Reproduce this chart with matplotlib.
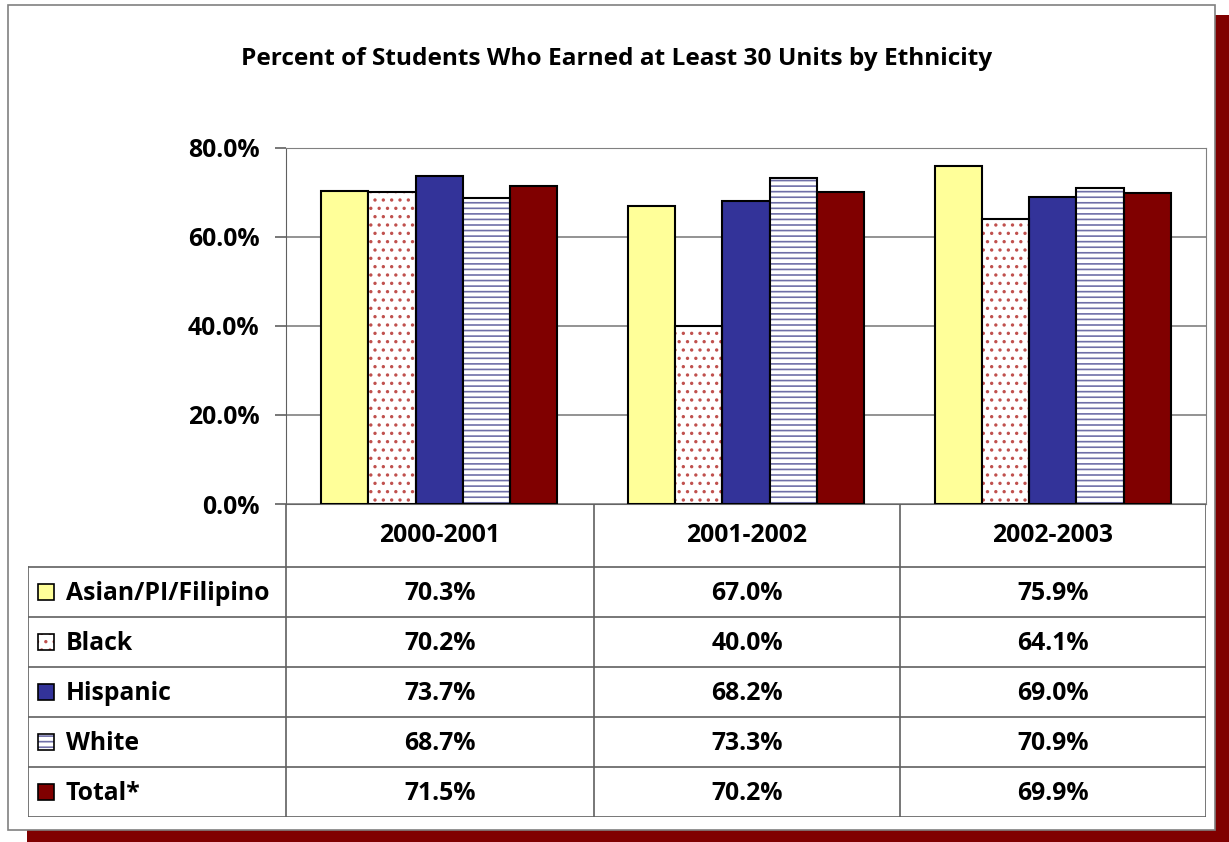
import numpy as np
import matplotlib.pyplot as plt
from matplotlib.patches import Rectangle

years = ['2000-2001', '2001-2002', '2002-2003']
groups = ['Asian/PI/Filipino', 'Black', 'Hispanic', 'White', 'Total*']
values = {
    'Asian/PI/Filipino': [70.3, 67.0, 75.9],
    'Black': [70.2, 40.0, 64.1],
    'Hispanic': [73.7, 68.2, 69.0],
    'White': [68.7, 73.3, 70.9],
    'Total*': [71.5, 70.2, 69.9],
}
faces = ['#ffff99', 'white', '#333399', 'white', '#800000']
hatches = [None, '..', None, '---', None]
hatch_cols = [None, '#c0504d', None, '#6f6fa8', None]

W, H = 1229, 842
plt.rcParams['font.family'] = ['Open Sans', 'DejaVu Sans']
plt.rcParams['font.weight'] = 'bold'
plt.rcParams['hatch.linewidth'] = 1.2
fs = 17.8

fig = plt.figure(figsize=(W / 100, H / 100), dpi=100)

def fx(x):
    return x / W

def fy(y):
    return 1 - y / H

# shadow + frame (behind the axes)
fig.patches.append(Rectangle((fx(27), fy(842)), fx(1229 - 27), (842 - 15) / H,
                             transform=fig.transFigure, facecolor='#800000', edgecolor='none', zorder=-3))
fig.patches.append(Rectangle((fx(8), fy(830)), fx(1215 - 8), (830 - 5) / H,
                             transform=fig.transFigure, facecolor='white', edgecolor='#808080', lw=1.2, zorder=-2))

fig.text(fx(617), fy(59), 'Percent of Students Who Earned at Least 30 Units by Ethnicity',
         ha='center', va='center', fontsize=17.6, fontweight='bold')

# bar plot area
ax = fig.add_axes([fx(286), fy(504), fx(1206 - 286), (504 - 148) / H])
ax.patch.set_alpha(0)
x = np.arange(len(years))
n = len(groups)
bw = 0.77 / n
for i, g in enumerate(groups):
    pos = x + (i - (n - 1) / 2) * bw
    if hatches[i]:
        ax.bar(pos, values[g], bw, color=faces[i], hatch=hatches[i], edgecolor=hatch_cols[i], lw=0, zorder=3)
        ax.bar(pos, values[g], bw, facecolor='none', edgecolor='black', lw=1.5, zorder=4)
    else:
        ax.bar(pos, values[g], bw, color=faces[i], edgecolor='black', lw=1.5, zorder=3)
ax.set_xlim(-0.5, len(years) - 0.5)
ax.set_ylim(0, 80)
ax.set_yticks(np.arange(0, 81, 20))
ax.set_yticklabels([f'{v:.1f}%' for v in np.arange(0, 81, 20)], fontsize=fs, fontweight='bold')
ax.set_xticks([])
ax.yaxis.grid(True, color='#808080', lw=1.2)
ax.set_axisbelow(True)
ax.tick_params(axis='y', length=8, width=1.2, color='#606060', pad=11)
for s in ['top', 'right', 'bottom']:
    ax.spines[s].set_color('#808080')
ax.spines['left'].set_color('#606060')

# data table
tab = fig.add_axes([fx(28), fy(817), fx(1206 - 28), (817 - 504) / H])
tab.set_xlim(28, 1206)
tab.set_ylim(817, 504)
tab.axis('off')
cols = [286, 594, 900, 1206]
row_top = 567
row_h = 50
lc = '#606060'
tab.plot([286, 1206], [504, 504], color=lc, lw=1.2)
for c in cols:
    tab.plot([c, c], [504, 817], color=lc, lw=1.2)
tab.plot([28, 28], [row_top, 817], color=lc, lw=1.2)
for r in range(n + 1):
    y = row_top + r * row_h
    tab.plot([28, 1206], [y, y], color=lc, lw=1.2)
for j, yr in enumerate(years):
    tab.text((cols[j] + cols[j + 1]) / 2, (504 + row_top) / 2, yr,
             ha='center', va='center', fontsize=fs, fontweight='bold')
for i, g in enumerate(groups):
    yc = row_top + (i + 0.5) * row_h
    if hatches[i]:
        tab.add_patch(Rectangle((38, yc - 8), 16, 16, facecolor=faces[i], hatch=hatches[i],
                                edgecolor=hatch_cols[i], lw=0))
        tab.add_patch(Rectangle((38, yc - 8), 16, 16, facecolor='none', edgecolor='black', lw=1.2))
    else:
        tab.add_patch(Rectangle((38, yc - 8), 16, 16, facecolor=faces[i], edgecolor='black', lw=1.2))
    tab.text(66, yc + 1, g, ha='left', va='center', fontsize=fs, fontweight='bold')
    for j in range(len(years)):
        tab.text((cols[j] + cols[j + 1]) / 2, yc + 1, f'{values[g][j]:.1f}%',
                 ha='center', va='center', fontsize=fs, fontweight='bold')

fig.savefig('out.png', dpi=100)
